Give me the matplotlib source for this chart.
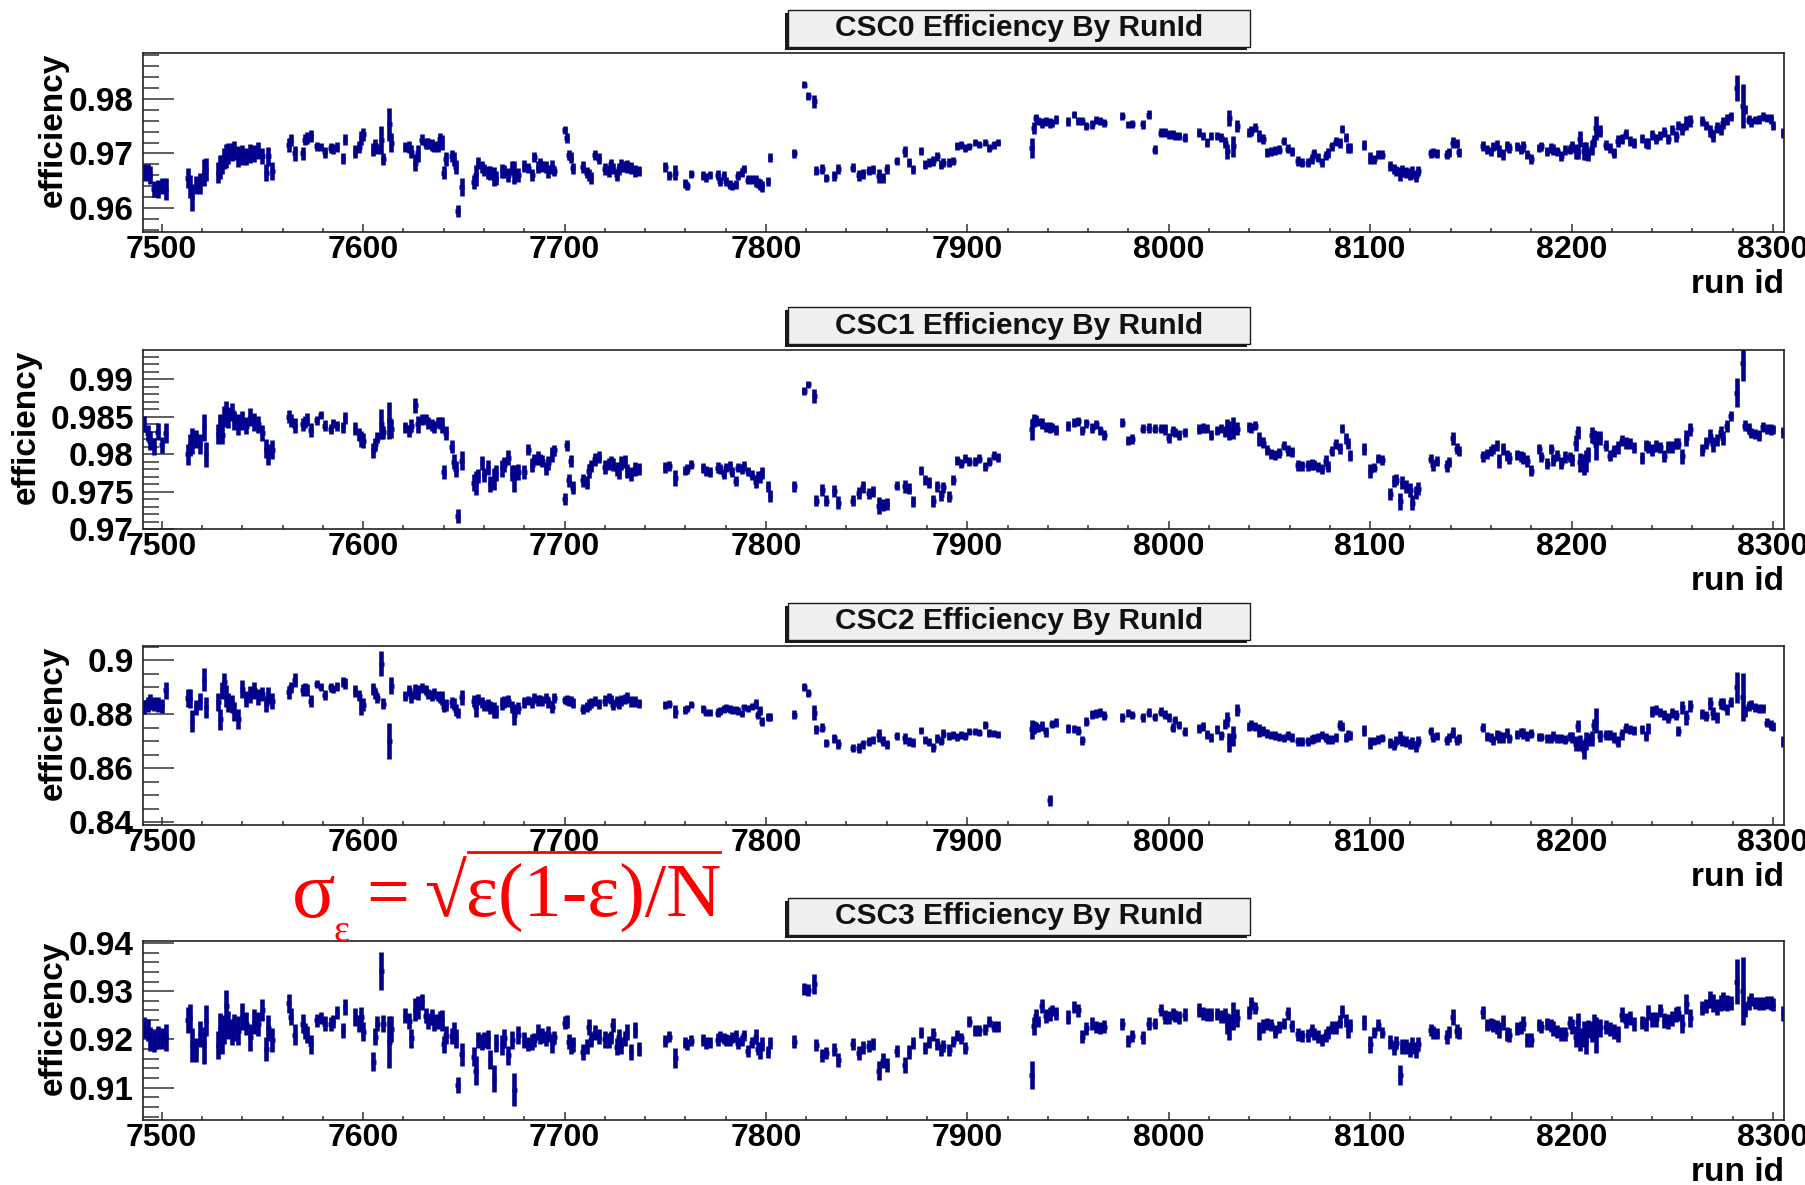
import matplotlib.pyplot as plt
import numpy as np
from matplotlib.patches import Rectangle
from matplotlib.lines import Line2D
from matplotlib.ticker import MultipleLocator, FormatStrFormatter

plt.rcParams["font.family"] = ["Liberation Sans", "DejaVu Sans"]

# run ids that have efficiency entries (shared by all four chambers)
runs = [
    7491, 7493, 7494, 7496, 7498, 7500, 7502,
    7513, 7514, 7515, 7517, 7519, 7521, 7522,
    7528, 7529, 7530, 7531, 7532, 7533, 7535, 7536, 7538, 7540, 7542, 7544, 7546, 7548, 7550, 7552, 7553, 7555,
    7563, 7564, 7566, 7570, 7571, 7572, 7574,
    7577, 7579, 7581, 7584, 7585, 7587, 7590, 7591,
    7596, 7598, 7599, 7600,
    7605, 7606, 7607, 7609, 7610, 7613, 7614,
    7621, 7623, 7624, 7626, 7627, 7629, 7631, 7632, 7634, 7635, 7637, 7638, 7639,
    7640, 7641, 7644, 7645, 7646, 7647, 7649,
    7655, 7656, 7657, 7659, 7660, 7662, 7663, 7665, 7666, 7669, 7670, 7672, 7674, 7675, 7677,
    7680, 7682, 7684, 7685, 7687, 7688, 7689, 7691, 7692, 7694, 7695,
    7700, 7701, 7702, 7703, 7704,
    7709, 7711, 7712, 7713, 7715, 7717,
    7720, 7722, 7723, 7724, 7726, 7727, 7728, 7730, 7731, 7733, 7735, 7737,
    7750, 7752, 7755, 7760, 7761, 7763, 7769, 7770, 7772, 7776, 7777, 7779, 7780, 7782, 7783, 7785, 7786, 7788,
    7789, 7791, 7793, 7795, 7796, 7797, 7798, 7801, 7802,
    7814, 7819, 7821, 7824,
    7825, 7828, 7830, 7834, 7836, 7843, 7846, 7848, 7851, 7853, 7856, 7858, 7860,
    7865, 7869, 7871, 7873, 7877, 7879, 7881, 7883, 7885, 7887, 7888, 7891, 7893, 7895, 7897, 7899, 7901, 7904,
    7906, 7909, 7911, 7913, 7915,
    7932, 7933, 7934, 7935, 7937, 7939, 7941, 7942, 7944, 7950, 7953, 7955, 7957, 7959, 7962, 7964, 7966, 7968,
    7977, 7980, 7982, 7987, 7990, 7993,
    7996, 7998, 8000, 8002, 8003, 8005, 8008, 8015, 8017, 8019, 8021, 8024, 8026, 8028, 8029, 8030, 8032, 8034,
    8040, 8041, 8043, 8045, 8047, 8049, 8051, 8053, 8055, 8057, 8059, 8061, 8064, 8066, 8069, 8071, 8072, 8074,
    8076, 8078, 8079, 8081, 8083, 8085, 8086, 8088, 8089, 8090,
    8097, 8100, 8102, 8104, 8106, 8110, 8112, 8113, 8115, 8116, 8118, 8120, 8121, 8123, 8124,
    8130, 8131, 8133, 8138, 8139, 8141, 8143, 8144,
    8156, 8158, 8160, 8161, 8163, 8164, 8166, 8168, 8169, 8173, 8175, 8176, 8178, 8180, 8184, 8185, 8188, 8190,
    8191, 8193, 8195, 8197, 8199, 8200, 8202, 8203, 8204, 8206, 8207, 8208, 8210, 8211, 8212, 8214,
    8217, 8219, 8221, 8223, 8225, 8227, 8229, 8231, 8235, 8237, 8238, 8240, 8242, 8244, 8246, 8248, 8250, 8252,
    8253, 8255, 8257, 8259,
    8265, 8267, 8269, 8270, 8272, 8274, 8275, 8277, 8279, 8282, 8285, 8286, 8288, 8289, 8291, 8293, 8295, 8297,
    8299, 8300, 8305,
]

# triggered events per run (thousands), N in sigma = sqrt(eff(1-eff)/N)
n_events_k = [
    15, 14, 12, 15, 13, 16, 9,
    10, 8, 6, 12, 10, 5, 7,
    9, 7, 10, 8, 6, 8, 10, 9, 8, 9, 12, 10, 11, 12, 14, 12, 10, 12,
    18, 22, 15, 20, 25, 22, 20,
    40, 45, 30, 35, 40, 35, 30, 25,
    20, 25, 15, 18,
    20, 25, 30, 4, 25, 2.5, 10,
    30, 25, 20, 12, 12, 25, 30, 25, 25, 25, 28, 25, 15,
    25, 20, 25, 20, 20, 30, 13,
    20, 9, 25, 25, 25, 20, 20, 11, 20, 18, 20, 20, 20, 7, 20,
    25, 35, 25, 35, 25, 35, 30, 30, 25, 20, 35,
    40, 35, 30, 30, 30,
    30, 30, 25, 30, 30, 30,
    25, 30, 35, 30, 25, 25, 25, 30, 25, 25, 25, 35,
    45, 50, 18, 55, 55, 55, 50, 50, 55, 40, 50, 50, 50, 55, 55, 50, 50, 55,
    55, 55, 55, 30, 45, 40, 35, 45, 45,
    40, 40, 40, 14,
    45, 40, 50, 40, 35, 45, 35, 40, 45, 50, 20, 35, 40,
    55, 30, 40, 45, 60, 50, 50, 40, 45, 50, 45, 45, 55, 55, 55, 50, 60, 60,
    60, 60, 55, 55, 55,
    9, 20, 35, 50, 30, 35, 30, 45, 40, 35, 50, 40, 45, 40, 40, 45, 45, 40,
    40, 50, 45, 40, 35, 50,
    40, 35, 40, 40, 45, 40, 40, 35, 40, 40, 40, 45, 40, 30, 15, 10, 8, 20,
    40, 35, 40, 20, 35, 45, 45, 40, 45, 50, 40, 45, 40, 45, 40, 40, 45, 45,
    45, 40, 40, 40, 40, 35, 40, 35, 30, 40,
    30, 25, 50, 50, 50, 35, 35, 40, 20, 30, 30, 30, 25, 30, 35,
    50, 40, 50, 35, 45, 25, 35, 45,
    35, 40, 40, 40, 35, 25, 30, 35, 35, 40, 40, 30, 35, 35, 45, 45, 40, 40,
    30, 40, 35, 35, 40, 30, 15, 20, 13, 10, 10, 20, 15, 20, 5, 20,
    35, 35, 30, 25, 30, 30, 35, 35, 35, 35, 30, 30, 30, 35, 30, 30, 30, 30,
    30, 20, 15, 20,
    30, 30, 20, 20, 25, 25, 20, 25, 30, 3, 1.3, 30, 30, 35, 40, 35, 35, 35,
    30, 40, 30,
]

csc0 = [
    0.9665, 0.9665, 0.9660, 0.9635, 0.9635, 0.9640, 0.9635,
    0.9655, 0.9640, 0.9620, 0.9642, 0.9645, 0.9665, 0.9670,
    0.9665, 0.9675, 0.9680, 0.9690, 0.9695, 0.9700, 0.9703, 0.9705, 0.9695, 0.9697, 0.9695, 0.9700, 0.9700,
    0.9705, 0.9695, 0.9665, 0.9695, 0.9667,
    0.9715, 0.9725, 0.9700, 0.9700, 0.9725, 0.9728, 0.9732,
    0.9713, 0.9712, 0.9702, 0.9710, 0.9708, 0.9712, 0.9690, 0.9725,
    0.9703, 0.9712, 0.9728, 0.9735,
    0.9707, 0.9715, 0.9708, 0.9724, 0.9690, 0.9753, 0.9720,
    0.9712, 0.9712, 0.9703, 0.9683, 0.9700, 0.9725, 0.9718, 0.9718, 0.9715, 0.9713, 0.9713, 0.9727, 0.9720,
    0.9665, 0.9690, 0.9695, 0.9690, 0.9675, 0.9595, 0.9638,
    0.9647, 0.9660, 0.9683, 0.9675, 0.9670, 0.9665, 0.9664, 0.9657, 0.9655, 0.9668, 0.9667, 0.9660, 0.9673,
    0.9665, 0.9660,
    0.9677, 0.9673, 0.9660, 0.9693, 0.9675, 0.9683, 0.9676, 0.9675, 0.9667, 0.9675, 0.9668,
    0.9743, 0.9728, 0.9697, 0.9692, 0.9673,
    0.9675, 0.9665, 0.9660, 0.9655, 0.9697, 0.9690,
    0.9672, 0.9668, 0.9680, 0.9672, 0.9660, 0.9672, 0.9678, 0.9676, 0.9676, 0.9673, 0.9668, 0.9668,
    0.9675, 0.9660, 0.9665, 0.9645, 0.9640, 0.9662, 0.9659, 0.9656, 0.9660, 0.9660, 0.9649, 0.9659, 0.9649,
    0.9643, 0.9640, 0.9643, 0.9659, 0.9665, 0.9672, 0.9652, 0.9652, 0.9649, 0.9646, 0.9643, 0.9640, 0.9649,
    0.9692,
    0.9700, 0.9826, 0.9805, 0.9796,
    0.9668, 0.9671, 0.9655, 0.9658, 0.9671, 0.9674, 0.9660, 0.9662, 0.9668, 0.9671, 0.9658, 0.9655, 0.9671,
    0.9686, 0.9704, 0.9683, 0.9671, 0.9704, 0.9680, 0.9683, 0.9686, 0.9695, 0.9680, 0.9683, 0.9683, 0.9686,
    0.9713, 0.9715, 0.9710, 0.9713, 0.9720, 0.9716, 0.9720, 0.9710, 0.9716, 0.9720,
    0.9710, 0.9747, 0.9765, 0.9759, 0.9756, 0.9759, 0.9756, 0.9756, 0.9762, 0.9759, 0.9771, 0.9759, 0.9759,
    0.9750, 0.9753, 0.9762, 0.9759, 0.9756,
    0.9768, 0.9753, 0.9753, 0.9753, 0.9771, 0.9707,
    0.9738, 0.9738, 0.9735, 0.9735, 0.9732, 0.9732, 0.9729, 0.9738, 0.9732, 0.9720, 0.9732, 0.9732, 0.9729,
    0.9720, 0.9704, 0.9765, 0.9713, 0.9750,
    0.9738, 0.9741, 0.9747, 0.9732, 0.9726, 0.9702, 0.9704, 0.9706, 0.9707, 0.9723, 0.9709, 0.9704, 0.9686,
    0.9683, 0.9683, 0.9690, 0.9700, 0.9692, 0.9684, 0.9696, 0.9701, 0.9713, 0.9721, 0.9719, 0.9745, 0.9729,
    0.9710, 0.9710,
    0.9715, 0.9692, 0.9689, 0.9698, 0.9698, 0.9677, 0.9671, 0.9668, 0.9662, 0.9668, 0.9665, 0.9662, 0.9665,
    0.9659, 0.9668,
    0.9700, 0.9702, 0.9700, 0.9698, 0.9702, 0.9720, 0.9718, 0.9702,
    0.9713, 0.9707, 0.9704, 0.9713, 0.9716, 0.9704, 0.9698, 0.9713, 0.9710, 0.9713, 0.9707, 0.9713, 0.9698,
    0.9690, 0.9710, 0.9713, 0.9704, 0.9710, 0.9707, 0.9704, 0.9695, 0.9707, 0.9707, 0.9713, 0.9704, 0.9701,
    0.9726, 0.9704, 0.9704, 0.9698, 0.9710, 0.9723, 0.9747, 0.9741,
    0.9716, 0.9710, 0.9701, 0.9723, 0.9726, 0.9735, 0.9723, 0.9719, 0.9727, 0.9719, 0.9718, 0.9733, 0.9727,
    0.9733, 0.9739, 0.9726, 0.9742, 0.9731, 0.9751, 0.9745, 0.9756, 0.9759,
    0.9759, 0.9751, 0.9741, 0.9732, 0.9747, 0.9744, 0.9756, 0.9762, 0.9768, 0.9820, 0.9787, 0.9781, 0.9762,
    0.9757, 0.9761, 0.9762, 0.9767, 0.9765, 0.9763, 0.9751, 0.9738,
]

csc1 = [
    0.9840, 0.9828, 0.9818, 0.9810, 0.9830, 0.9812, 0.9828,
    0.9800, 0.9812, 0.9818, 0.9820, 0.9814, 0.9836, 0.9800,
    0.9827, 0.9839, 0.9826, 0.9850, 0.9855, 0.9849, 0.9856, 0.9845, 0.9840, 0.9845, 0.9838, 0.9850, 0.9843,
    0.9840, 0.9828, 0.9807, 0.9800, 0.9806,
    0.9850, 0.9845, 0.9838, 0.9840, 0.9843, 0.9846, 0.9832,
    0.9845, 0.9852, 0.9838, 0.9834, 0.9841, 0.9838, 0.9836, 0.9848,
    0.9834, 0.9826, 0.9820, 0.9818,
    0.9805, 0.9813, 0.9822, 0.9840, 0.9829, 0.9845, 0.9834,
    0.9836, 0.9831, 0.9838, 0.9865, 0.9840, 0.9846, 0.9847, 0.9841, 0.9839, 0.9836, 0.9842, 0.9841, 0.9839,
    0.9776, 0.9828, 0.9810, 0.9790, 0.9780, 0.9717, 0.9791,
    0.9762, 0.9761, 0.9771, 0.9788, 0.9772, 0.9782, 0.9760, 0.9767, 0.9775, 0.9781, 0.9786, 0.9795, 0.9775,
    0.9768, 0.9776,
    0.9776, 0.9806, 0.9785, 0.9793, 0.9795, 0.9793, 0.9791, 0.9781, 0.9788, 0.9800, 0.9805,
    0.9740, 0.9812, 0.9765, 0.9791, 0.9755,
    0.9765, 0.9762, 0.9777, 0.9784, 0.9793, 0.9796,
    0.9783, 0.9787, 0.9790, 0.9786, 0.9780, 0.9776, 0.9788, 0.9790, 0.9778, 0.9774, 0.9780, 0.9780,
    0.9782, 0.9784, 0.9768, 0.9778, 0.9780, 0.9786, 0.9781, 0.9778, 0.9776, 0.9782, 0.9780, 0.9774, 0.9782,
    0.9784, 0.9776, 0.9764, 0.9782, 0.9780, 0.9784, 0.9777, 0.9772, 0.9763, 0.9770, 0.9769, 0.9775, 0.9757,
    0.9744,
    0.9757, 0.9884, 0.9893, 0.9878,
    0.9738, 0.9752, 0.9738, 0.9751, 0.9735, 0.9738, 0.9748, 0.9756, 0.9748, 0.9750, 0.9731, 0.9732, 0.9733,
    0.9758, 0.9757, 0.9754, 0.9737, 0.9778, 0.9765, 0.9762, 0.9738, 0.9757, 0.9745, 0.9756, 0.9743, 0.9765,
    0.9792, 0.9787, 0.9794, 0.9790, 0.9790, 0.9794, 0.9784, 0.9790, 0.9798, 0.9796,
    0.9833, 0.9845, 0.9846, 0.9843, 0.9841, 0.9836, 0.9835, 0.9835, 0.9832, 0.9837, 0.9842, 0.9844, 0.9832,
    0.9841, 0.9835, 0.9840, 0.9832, 0.9826,
    0.9842, 0.9818, 0.9820, 0.9834, 0.9835, 0.9834,
    0.9834, 0.9833, 0.9822, 0.9831, 0.9829, 0.9826, 0.9829, 0.9834, 0.9835, 0.9834, 0.9825, 0.9831, 0.9834,
    0.9830, 0.9836, 0.9832, 0.9835, 0.9834,
    0.9836, 0.9835, 0.9838, 0.9820, 0.9815, 0.9805, 0.9800, 0.9799, 0.9802, 0.9811, 0.9805, 0.9803, 0.9785,
    0.9784, 0.9785, 0.9786, 0.9785, 0.9783, 0.9780, 0.9791, 0.9783, 0.9804, 0.9814, 0.9808, 0.9834, 0.9821,
    0.9814, 0.9798,
    0.9807, 0.9777, 0.9782, 0.9794, 0.9792, 0.9747, 0.9764, 0.9766, 0.9737, 0.9762, 0.9757, 0.9752, 0.9735,
    0.9749, 0.9754,
    0.9794, 0.9785, 0.9791, 0.9784, 0.9789, 0.9821, 0.9807, 0.9804,
    0.9797, 0.9800, 0.9804, 0.9807, 0.9812, 0.9791, 0.9807, 0.9798, 0.9795, 0.9799, 0.9797, 0.9795, 0.9791,
    0.9778, 0.9807, 0.9796, 0.9787, 0.9807, 0.9792, 0.9798, 0.9788, 0.9796, 0.9796, 0.9792, 0.9815, 0.9829,
    0.9789, 0.9786, 0.9791, 0.9800, 0.9826, 0.9823, 0.9812, 0.9822,
    0.9811, 0.9798, 0.9804, 0.9809, 0.9818, 0.9815, 0.9814, 0.9809, 0.9795, 0.9811, 0.9809, 0.9806, 0.9811,
    0.9809, 0.9798, 0.9809, 0.9810, 0.9814, 0.9814, 0.9797, 0.9821, 0.9833,
    0.9806, 0.9815, 0.9824, 0.9813, 0.9819, 0.9830, 0.9822, 0.9838, 0.9851, 0.9882, 0.9922, 0.9838, 0.9834,
    0.9828, 0.9827, 0.9825, 0.9836, 0.9834, 0.9833, 0.9833, 0.9829,
]

csc2 = [
    0.8828, 0.8835, 0.8844, 0.8838, 0.8835, 0.8831, 0.8888,
    0.8860, 0.8858, 0.8775, 0.8825, 0.8848, 0.8928, 0.8825,
    0.8844, 0.8781, 0.8888, 0.8919, 0.8869, 0.8844, 0.8838, 0.8810, 0.8781, 0.8894, 0.8856, 0.8872, 0.8888,
    0.8863, 0.8875, 0.8838, 0.8869, 0.8850,
    0.8881, 0.8900, 0.8928, 0.8888, 0.8897, 0.8890, 0.8850,
    0.8913, 0.8900, 0.8872, 0.8900, 0.8894, 0.8903, 0.8919, 0.8915,
    0.8885, 0.8869, 0.8825, 0.8835,
    0.8894, 0.8878, 0.8860, 0.8988, 0.8838, 0.8700, 0.8906,
    0.8866, 0.8888, 0.8863, 0.8885, 0.8881, 0.8897, 0.8890, 0.8875, 0.8869, 0.8878, 0.8869, 0.8863, 0.8860,
    0.8828, 0.8835, 0.8844, 0.8838, 0.8815, 0.8806, 0.8863,
    0.8848, 0.8825, 0.8853, 0.8844, 0.8831, 0.8835, 0.8825, 0.8815, 0.8810, 0.8840, 0.8844, 0.8850, 0.8828,
    0.8798, 0.8822,
    0.8844, 0.8850, 0.8844, 0.8860, 0.8850, 0.8856, 0.8848, 0.8860, 0.8844, 0.8828, 0.8860,
    0.8853, 0.8853, 0.8850, 0.8848, 0.8840,
    0.8819, 0.8828, 0.8835, 0.8840, 0.8848, 0.8838,
    0.8850, 0.8860, 0.8856, 0.8835, 0.8848, 0.8840, 0.8850, 0.8856, 0.8863, 0.8848, 0.8848, 0.8840,
    0.8835, 0.8838, 0.8810, 0.8815, 0.8822, 0.8835, 0.8819, 0.8806, 0.8806, 0.8806, 0.8813, 0.8819, 0.8822,
    0.8819, 0.8815, 0.8815, 0.8813, 0.8803, 0.8825, 0.8822, 0.8828, 0.8838, 0.8798, 0.8813, 0.8772, 0.8790,
    0.8790,
    0.8798, 0.8900, 0.8878, 0.8806,
    0.8744, 0.8750, 0.8694, 0.8710, 0.8690, 0.8675, 0.8675, 0.8688, 0.8698, 0.8703, 0.8722, 0.8700, 0.8688,
    0.8719, 0.8710, 0.8700, 0.8694, 0.8740, 0.8703, 0.8698, 0.8678, 0.8710, 0.8700, 0.8728, 0.8719, 0.8722,
    0.8715, 0.8722, 0.8719, 0.8735, 0.8735, 0.8731, 0.8760, 0.8731, 0.8728, 0.8725,
    0.8744, 0.8750, 0.8753, 0.8750, 0.8756, 0.8735, 0.8481, 0.8763, 0.8769, 0.8747, 0.8744, 0.8738, 0.8703,
    0.8772, 0.8800, 0.8803, 0.8806, 0.8794,
    0.8788, 0.8803, 0.8798, 0.8788, 0.8806, 0.8790,
    0.8810, 0.8798, 0.8788, 0.8750, 0.8778, 0.8760, 0.8735, 0.8747, 0.8756, 0.8725, 0.8713, 0.8744, 0.8722,
    0.8763, 0.8781, 0.8695, 0.8720, 0.8815,
    0.8753, 0.8760, 0.8753, 0.8740, 0.8738, 0.8728, 0.8722, 0.8722, 0.8715, 0.8713, 0.8722, 0.8713, 0.8700,
    0.8698, 0.8700, 0.8706, 0.8710, 0.8713, 0.8722, 0.8713, 0.8706, 0.8706, 0.8713, 0.8760, 0.8753, 0.8713,
    0.8722, 0.8722,
    0.8740, 0.8694, 0.8700, 0.8706, 0.8713, 0.8694, 0.8685, 0.8703, 0.8713, 0.8703, 0.8698, 0.8690, 0.8694,
    0.8681, 0.8700,
    0.8738, 0.8715, 0.8719, 0.8703, 0.8713, 0.8731, 0.8703, 0.8710,
    0.8750, 0.8719, 0.8713, 0.8703, 0.8722, 0.8715, 0.8713, 0.8731, 0.8710, 0.8725, 0.8731, 0.8728, 0.8719,
    0.8728, 0.8715, 0.8715, 0.8710, 0.8710, 0.8719, 0.8710, 0.8710, 0.8706, 0.8719, 0.8713, 0.8690, 0.8756,
    0.8694, 0.8669, 0.8700, 0.8706, 0.8710, 0.8760, 0.8775, 0.8719,
    0.8722, 0.8722, 0.8713, 0.8698, 0.8725, 0.8750, 0.8744, 0.8740, 0.8744, 0.8719, 0.8747, 0.8810, 0.8815,
    0.8806, 0.8798, 0.8785, 0.8806, 0.8798, 0.8738, 0.8825, 0.8788, 0.8831,
    0.8800, 0.8794, 0.8840, 0.8803, 0.8788, 0.8840, 0.8838, 0.8819, 0.8844, 0.8900, 0.8863, 0.8810, 0.8831,
    0.8835, 0.8825, 0.8822, 0.8822, 0.8769, 0.8760, 0.8753, 0.8698,
]

csc3 = [
    0.9225, 0.9219, 0.9200, 0.9197, 0.9204, 0.9202, 0.9204,
    0.9240, 0.9244, 0.9188, 0.9178, 0.9212, 0.9188, 0.9239,
    0.9188, 0.9223, 0.9197, 0.9221, 0.9269, 0.9230, 0.9216, 0.9225, 0.9218, 0.9247, 0.9233, 0.9204, 0.9237,
    0.9232, 0.9261, 0.9181, 0.9223, 0.9199,
    0.9275, 0.9247, 0.9210, 0.9233, 0.9218, 0.9210, 0.9190,
    0.9240, 0.9244, 0.9233, 0.9232, 0.9237, 0.9256, 0.9219, 0.9268,
    0.9247, 0.9233, 0.9246, 0.9216,
    0.9154, 0.9206, 0.9233, 0.9341, 0.9233, 0.9195, 0.9221,
    0.9249, 0.9239, 0.9202, 0.9263, 0.9267, 0.9278, 0.9249, 0.9239, 0.9247, 0.9235, 0.9237, 0.9242, 0.9240,
    0.9190, 0.9209, 0.9207, 0.9218, 0.9202, 0.9105, 0.9169,
    0.9164, 0.9135, 0.9199, 0.9195, 0.9199, 0.9200, 0.9158, 0.9119, 0.9193, 0.9188, 0.9202, 0.9167, 0.9199,
    0.9096, 0.9209,
    0.9199, 0.9190, 0.9195, 0.9199, 0.9216, 0.9206, 0.9209, 0.9202, 0.9211, 0.9192, 0.9204,
    0.9235, 0.9237, 0.9195, 0.9186, 0.9190,
    0.9174, 0.9185, 0.9226, 0.9199, 0.9214, 0.9206,
    0.9200, 0.9197, 0.9204, 0.9230, 0.9185, 0.9204, 0.9188, 0.9202, 0.9216, 0.9174, 0.9219, 0.9181,
    0.9197, 0.9206, 0.9162, 0.9193, 0.9190, 0.9197, 0.9199, 0.9193, 0.9193, 0.9199, 0.9206, 0.9202, 0.9199,
    0.9197, 0.9204, 0.9207, 0.9193, 0.9197, 0.9209, 0.9176, 0.9193, 0.9206, 0.9181, 0.9174, 0.9190, 0.9174,
    0.9193,
    0.9195, 0.9304, 0.9303, 0.9315,
    0.9188, 0.9167, 0.9171, 0.9179, 0.9157, 0.9190, 0.9172, 0.9183, 0.9186, 0.9190, 0.9135, 0.9156, 0.9147,
    0.9176, 0.9147, 0.9174, 0.9193, 0.9214, 0.9183, 0.9195, 0.9211, 0.9190, 0.9178, 0.9186, 0.9178, 0.9195,
    0.9209, 0.9202, 0.9183, 0.9237, 0.9219, 0.9219, 0.9221, 0.9237, 0.9226, 0.9226,
    0.9126, 0.9228, 0.9249, 0.9237, 0.9269, 0.9249, 0.9253, 0.9260, 0.9254, 0.9246, 0.9267, 0.9260, 0.9206,
    0.9223, 0.9233, 0.9226, 0.9223, 0.9226,
    0.9232, 0.9197, 0.9207, 0.9204, 0.9233, 0.9233,
    0.9261, 0.9246, 0.9246, 0.9253, 0.9249, 0.9246, 0.9251, 0.9261, 0.9254, 0.9252, 0.9252, 0.9252, 0.9247,
    0.9249, 0.9233, 0.9226, 0.9249, 0.9244,
    0.9256, 0.9275, 0.9265, 0.9218, 0.9228, 0.9232, 0.9230, 0.9216, 0.9226, 0.9233, 0.9254, 0.9228, 0.9211,
    0.9207, 0.9209, 0.9219, 0.9212, 0.9206, 0.9199, 0.9209, 0.9214, 0.9225, 0.9225, 0.9237, 0.9258, 0.9239,
    0.9219, 0.9228,
    0.9235, 0.9190, 0.9214, 0.9230, 0.9214, 0.9195, 0.9183, 0.9193, 0.9126, 0.9185, 0.9185, 0.9179, 0.9188,
    0.9178, 0.9190,
    0.9219, 0.9214, 0.9212, 0.9206, 0.9216, 0.9246, 0.9218, 0.9214,
    0.9256, 0.9230, 0.9232, 0.9228, 0.9226, 0.9219, 0.9235, 0.9212, 0.9209, 0.9223, 0.9225, 0.9233, 0.9199,
    0.9199, 0.9230, 0.9226, 0.9232, 0.9228, 0.9223, 0.9216, 0.9211, 0.9211, 0.9235, 0.9226, 0.9206, 0.9237,
    0.9199, 0.9211, 0.9197, 0.9221, 0.9216, 0.9233, 0.9209, 0.9223,
    0.9226, 0.9221, 0.9216, 0.9211, 0.9251, 0.9239, 0.9244, 0.9232, 0.9235, 0.9232, 0.9256, 0.9242, 0.9242,
    0.9260, 0.9239, 0.9237, 0.9244, 0.9251, 0.9254, 0.9233, 0.9274, 0.9244,
    0.9265, 0.9269, 0.9283, 0.9276, 0.9267, 0.9275, 0.9280, 0.9275, 0.9275, 0.9320, 0.9301, 0.9262, 0.9276,
    0.9283, 0.9275, 0.9275, 0.9275, 0.9276, 0.9275, 0.9272, 0.9254,
]

chambers = ["CSC0", "CSC1", "CSC2", "CSC3"]
efficiencies = [csc0, csc1, csc2, csc3]

# y ranges and tick steps per chamber
y_ranges = [(0.9556, 0.9884), (0.970, 0.9939), (0.8389, 0.9053), (0.9033, 0.9404)]
y_major = [0.01, 0.005, 0.02, 0.01]
y_minor = [0.002, 0.001, 0.005, 0.002]
# where the y title sits (left of the tick labels)
ylabel_x = [-0.045, -0.0615, -0.045, -0.045]

W, H = 1806, 1185
axes_top = [53, 350, 646, 941]
axes_h = 179
axes_left, axes_w = 143, 1641
navy = "#00008c"


def title_box(fig, text, top):
    x0, x1 = 788, 1250
    y0, y1 = top - 43, top - 6
    w, h = (x1 - x0) / W, (y1 - y0) / H
    shadow = Rectangle(((x0 - 3) / W, 1 - (y1 + 3) / H), w, h, transform=fig.transFigure,
                       facecolor="#1a1a1a", edgecolor="none")
    box = Rectangle((x0 / W, 1 - y1 / H), w, h, transform=fig.transFigure,
                    facecolor="#f0f0f0", edgecolor="#1a1a1a", linewidth=1.0)
    fig.add_artist(shadow)
    fig.add_artist(box)
    fig.text((x0 + x1) / 2 / W, 1 - (y0 + y1) / 2 / H, text, ha="center", va="center",
             fontsize=21.5, fontweight="bold", color="#111111")


fig = plt.figure(figsize=(W / 100, H / 100), dpi=100)
x = np.array(runs)
n = np.array(n_events_k) * 1000.0

for i in range(4):
    eff = np.array(efficiencies[i])
    sigma = np.sqrt(eff * (1 - eff) / n)
    top = axes_top[i]
    ax = fig.add_axes([axes_left / W, 1 - (top + axes_h) / H, axes_w / W, axes_h / H])
    ax.errorbar(x, eff, yerr=sigma, xerr=1.2, fmt="none", ecolor=navy, elinewidth=3.3, capsize=0)

    ax.set_xlim(7490.7, 8305.5)
    ax.set_ylim(*y_ranges[i])
    ax.xaxis.set_major_locator(MultipleLocator(100))
    ax.xaxis.set_minor_locator(MultipleLocator(20))
    ax.yaxis.set_major_locator(MultipleLocator(y_major[i]))
    ax.yaxis.set_minor_locator(MultipleLocator(y_minor[i]))
    ax.yaxis.set_major_formatter(FormatStrFormatter("%g"))

    ax.tick_params(axis="both", which="both", direction="in", top=False, right=False,
                   color="#333333", width=1.1)
    ax.tick_params(axis="y", which="major", length=22.5, pad=6.5)
    ax.tick_params(axis="y", which="minor", length=11.2)
    ax.tick_params(axis="x", which="major", length=5.8, pad=2)
    ax.tick_params(axis="x", which="minor", length=2.9)
    for lab in ax.get_xticklabels():
        lab.set_fontsize(23)
        lab.set_fontweight("bold")
    for lab in ax.get_yticklabels():
        lab.set_fontsize(24)
        lab.set_fontweight("bold")
    for s in ax.spines.values():
        s.set_linewidth(1.2)
        s.set_color("#222222")

    ax.set_ylabel("efficiency", loc="top", fontsize=24, fontweight="bold")
    ax.yaxis.set_label_coords(ylabel_x[i], 1.0)
    ax.annotate("run id", xy=(1, 0), xycoords="axes fraction", xytext=(0, -38),
                textcoords="offset points", ha="right", va="center",
                fontsize=24, fontweight="bold")

    title_box(fig, chambers[i] + " Efficiency By RunId", top)

# binomial error formula used for the bars
serif = ["Liberation Serif", "DejaVu Serif"]
fig.text(292 / W, 1 - 917 / H, "σ", fontsize=58, color="red", family=serif, va="baseline")
fig.text(334 / W, 1 - 941 / H, "ε", fontsize=27, color="red", family=serif, va="baseline")
fig.text(366 / W, 1 - 917 / H, "=", fontsize=55, color="red", family=serif, va="baseline")
fig.text(424 / W, 1 - 917 / H, "√ε(1-ε)/N", fontsize=55, color="red", family=serif, va="baseline")
fig.add_artist(Line2D([468 / W, 720 / W], [1 - 852 / H, 1 - 852 / H], color="red", linewidth=2.0,
                      transform=fig.transFigure))

plt.savefig("out.png", dpi=100)
